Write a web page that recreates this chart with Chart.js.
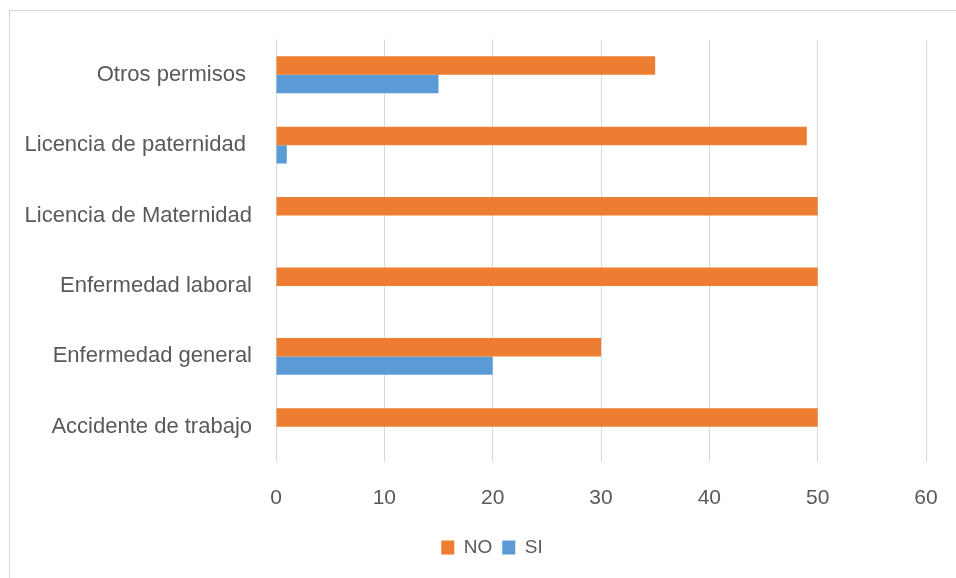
<!DOCTYPE html>
<html><head><meta charset="utf-8">
<script src="https://cdn.jsdelivr.net/npm/chart.js@4"></script>
<style>
html,body{margin:0;padding:0;background:#fff;overflow:hidden;width:956px;height:578px;}
#frame{position:absolute;left:9px;top:10px;width:1000px;height:700px;border:1px solid #d6d6d6;box-sizing:border-box;}
#wrap{position:absolute;left:0;top:0;width:990px;height:578px;}
</style></head><body>
<div id="frame"></div>
<div id="wrap"><canvas id="c"></canvas></div>
<script>
const categories = ['Otros permisos ', 'Licencia de paternidad ', 'Licencia de Maternidad', 'Enfermedad laboral', 'Enfermedad general', 'Accidente de trabajo'];
const noValues = [35, 49, 50, 50, 30, 50];
const siValues = [15, 1, 0, 0, 20, 0];
const xMin = 0, xMax = 60, xStep = 10;

const textColor = '#595959';
const fontFamily = '"Liberation Sans", Arial, sans-serif';

new Chart(document.getElementById('c'), {
  type: 'bar',
  data: {
    labels: categories,
    datasets: [
      { label: 'NO', data: noValues, backgroundColor: '#ED7D31', categoryPercentage: 0.525, barPercentage: 1.0 },
      { label: 'SI', data: siValues, backgroundColor: '#5B9BD5', categoryPercentage: 0.525, barPercentage: 1.0 }
    ]
  },
  options: {
    indexAxis: 'y',
    responsive: true,
    maintainAspectRatio: false,
    animation: false,
    layout: { padding: { left: 0, right: 6, top: 39.5, bottom: 11 } },
    scales: {
      x: {
        min: xMin, max: xMax,
        ticks: { stepSize: xStep, color: textColor, font: { family: fontFamily, size: 21 }, padding: 24 },
        grid: { color: '#d9d9d9', lineWidth: 1, drawTicks: false },
        border: { display: false },
        afterFit: s => { s.height = 66; }
      },
      y: {
        ticks: { color: textColor, font: { family: fontFamily, size: 22 }, padding: 24 },
        grid: { display: false, drawTicks: false },
        border: { display: false },
        afterFit: s => { s.width = 276; }
      },
      yRight: {
        type: 'category',
        position: 'right',
        display: true,
        ticks: { display: false },
        grid: { display: false, drawTicks: false },
        border: { display: false },
        afterFit: s => { s.width = 58; }
      }
    },
    plugins: {
      legend: {
        position: 'bottom',
        labels: { color: textColor, font: { family: fontFamily, size: 19 }, boxWidth: 13, boxHeight: 14, padding: 10 }
      },
      tooltip: { enabled: false }
    }
  }
});
</script>
</body></html>
